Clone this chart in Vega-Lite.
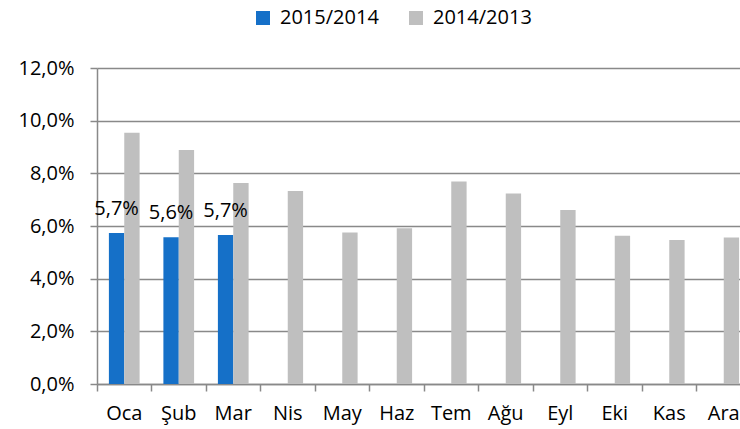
{
  "$schema": "https://vega.github.io/schema/vega-lite/v6.json",
  "autosize": {"type": "none"},
  "width": 654,
  "height": 316,
  "padding": {"left": 97, "top": 68, "right": 0, "bottom": 45},
  "background": "white",
  "config": {
    "locale": {"number": {"decimal": ",", "thousands": ".", "grouping": [3], "currency": ["", " TL"]}},
    "font": "Open Sans",
    "view": {"stroke": null}
  },
  "data": {
    "values": [
      {"ay": "Oca", "seri": "2015/2014", "deger": 0.0573},
      {"ay": "Şub", "seri": "2015/2014", "deger": 0.0557},
      {"ay": "Mar", "seri": "2015/2014", "deger": 0.0566},
      {"ay": "Oca", "seri": "2014/2013", "deger": 0.0954},
      {"ay": "Şub", "seri": "2014/2013", "deger": 0.0889},
      {"ay": "Mar", "seri": "2014/2013", "deger": 0.0763},
      {"ay": "Nis", "seri": "2014/2013", "deger": 0.0733},
      {"ay": "May", "seri": "2014/2013", "deger": 0.0575},
      {"ay": "Haz", "seri": "2014/2013", "deger": 0.0591},
      {"ay": "Tem", "seri": "2014/2013", "deger": 0.0769},
      {"ay": "Ağu", "seri": "2014/2013", "deger": 0.0723},
      {"ay": "Eyl", "seri": "2014/2013", "deger": 0.0661},
      {"ay": "Eki", "seri": "2014/2013", "deger": 0.0563},
      {"ay": "Kas", "seri": "2014/2013", "deger": 0.0547},
      {"ay": "Ara", "seri": "2014/2013", "deger": 0.0556}
    ]
  },
  "encoding": {
    "x": {
      "field": "ay", "type": "nominal",
      "sort": ["Oca", "Şub", "Mar", "Nis", "May", "Haz", "Tem", "Ağu", "Eyl", "Eki", "Kas", "Ara"],
      "scale": {"paddingInner": 0, "paddingOuter": 0},
      "axis": {
        "title": null, "labelAngle": 0, "bandPosition": 0,
        "tickSize": 7, "tickColor": "#898989", "domainColor": "#898989", "domainWidth": 1.5, "tickWidth": 1.5,
        "labelFontSize": 20, "labelColor": "#000000", "labelPadding": 12, "grid": false
      }
    },
    "xOffset": {
      "field": "seri", "type": "nominal",
      "sort": ["2015/2014", "2014/2013"],
      "scale": {"paddingInner": 0, "paddingOuter": 0.775}
    },
    "y": {
      "field": "deger", "type": "quantitative",
      "scale": {"domain": [0, 0.12], "nice": false},
      "axis": {
        "title": null, "values": [0, 0.02, 0.04, 0.06, 0.08, 0.1, 0.12], "format": ".1%",
        "tickSize": 7, "tickColor": "#898989", "domainColor": "#898989", "domainWidth": 1.5, "tickWidth": 1.5,
        "gridColor": "#898989", "gridWidth": 1.5, "labelFontSize": 20, "labelColor": "#000000", "labelPadding": 16
      }
    }
  },
  "layer": [
    {
      "mark": {"type": "bar"},
      "encoding": {
        "color": {
          "field": "seri", "type": "nominal",
          "sort": ["2015/2014", "2014/2013"],
          "scale": {"domain": ["2015/2014", "2014/2013"], "range": ["#1570C8", "#BFBFBF"]},
          "legend": {
            "title": null, "orient": "none", "direction": "horizontal",
            "legendX": 156, "legendY": -60, "padding": 0,
            "symbolType": "square", "symbolSize": 196, "symbolStrokeWidth": 0,
            "labelFontSize": 20, "labelColor": "#000000", "labelOffset": 7, "columnPadding": 27
          }
        }
      }
    },
    {
      "transform": [{"filter": "datum.seri === '2015/2014'"}],
      "mark": {"type": "text", "baseline": "middle", "dy": -24, "fontSize": 20, "color": "#000000"},
      "encoding": {
        "text": {"field": "deger", "type": "quantitative", "format": ".1%"}
      }
    }
  ]
}
